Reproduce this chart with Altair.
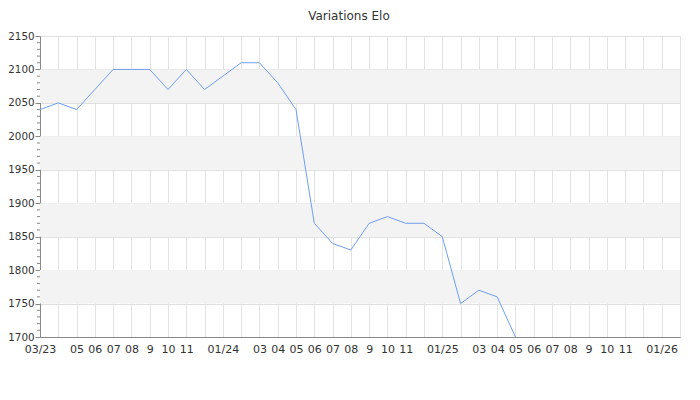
import altair as alt
import pandas as pd

# Data
month_labels = ["03/23", "", "05", "06", "07", "08", "9", "10", "11", "", "01/24", "",
                "03", "04", "05", "06", "07", "08", "9", "10", "11", "", "01/25", "",
                "03", "04", "05", "06", "07", "08", "9", "10", "11", "", "01/26", ""]
elo = [2040, 2050, 2040, 2070, 2100, 2100, 2100, 2070, 2100, 2070, 2090, 2110,
       2110, 2080, 2040, 1870, 1840, 1830, 1870, 1880, 1870, 1870, 1850, 1750,
       1770, 1760, 1700]
band_starts = [1750, 1850, 1950, 2050]
y_ticks = list(range(1700, 2151, 50))
minor_ticks = [v for v in range(1700, 2151, 10) if v % 50 != 0]

line_df = pd.DataFrame({"m": list(range(len(elo))), "elo": elo})
band_df = pd.DataFrame({"y0": band_starts, "y1": [b + 50 for b in band_starts]})
minor_df = pd.DataFrame({"v": minor_ticks})

label_js = "[" + ",".join("'" + s + "'" for s in month_labels) + "]"

xscale = alt.Scale(domain=[0, len(month_labels) - 1], nice=False, zero=False)
yscale = alt.Scale(domain=[1700, 2150], nice=False, zero=False)

font = "DejaVu Sans"

yaxis = alt.Axis(values=y_ticks, format="d",
                 grid=True, labelOverlap=False, labelFlush=False,
                 gridColor="#e0e0e0", tickSize=5, tickColor="#888888",
                 domainColor="#888888", labelColor="#333333",
                 labelFont=font, labelFontSize=10.3, labelPadding=1)

bands = alt.Chart(band_df).mark_rect(color="#f3f3f3").encode(
    y=alt.Y("y0:Q", scale=yscale, title=None, axis=yaxis),
    y2="y1:Q",
    x=alt.value(0),
    x2=alt.value(640),
)

line = alt.Chart(line_df).mark_line(color="#6f9ef0", strokeWidth=1, clip=True).encode(
    x=alt.X("m:Q", scale=xscale, title=None,
            axis=alt.Axis(values=list(range(len(month_labels))),
                          labelExpr=label_js + "[datum.value]",
                          grid=True, gridColor="#e3e3e3", ticks=False,
                          domainColor="#888888", labelColor="#333333",
                          labelFont=font, labelFontSize=11, labelPadding=6,
                          labelOverlap=False, labelFlush=False)),
    y=alt.Y("elo:Q", scale=yscale, title=None, axis=yaxis),
)

minor = alt.Chart(minor_df).mark_rule(color="#888888", strokeWidth=1).encode(
    y=alt.Y("v:Q", scale=yscale, title=None, axis=yaxis),
    x=alt.value(-3),
    x2=alt.value(0),
)

chart = alt.layer(bands, line, minor).properties(
    width=640,
    height=301,
    title=alt.TitleParams("Variations Elo", font=font, fontSize=12,
                          fontWeight="normal", color="#333333", offset=8, dx=-11),
    autosize=alt.AutoSizeParams(type="none"),
    padding={"left": 32, "top": 28, "right": 12, "bottom": 55},
).configure_view(stroke="#e3e3e3")

chart.save("out.html", embed_options={"renderer": "svg", "actions": False})
